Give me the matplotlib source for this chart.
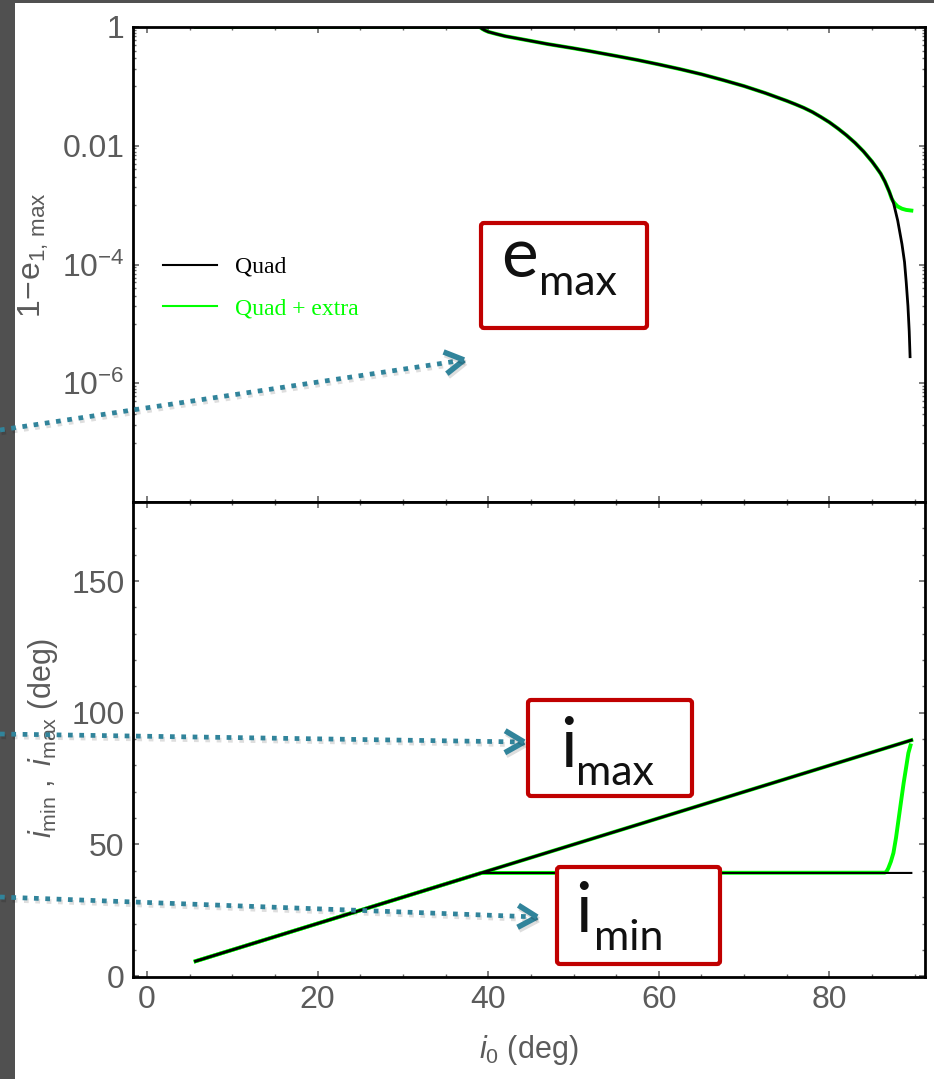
import matplotlib
matplotlib.use("Agg")
import matplotlib.pyplot as plt
import matplotlib.patheffects as pe
from matplotlib.lines import Line2D
from matplotlib.patches import Rectangle, FancyBboxPatch
from matplotlib.ticker import FixedLocator, FixedFormatter, MultipleLocator, NullFormatter

plt.rcParams["font.family"] = ["Liberation Sans", "DejaVu Sans"]
plt.rcParams["mathtext.fontset"] = "custom"
plt.rcParams["mathtext.rm"] = "Liberation Sans"
plt.rcParams["mathtext.it"] = "Liberation Sans:italic"

# ---- data ----
# top panel: 1 - e_max against i0
i0_e_quad = [5.7, 39.0, 39.3, 39.6, 40.0, 41.0, 42.0, 44.0, 47.0, 50.0, 52.0,
             55.0, 57.5, 60.0, 62.5, 65.0, 67.5, 70.0, 72.5, 75.0, 76.0, 77.0,
             78.0, 79.0, 80.0, 81.0, 82.0, 83.0, 84.0, 85.0, 85.5, 86.0, 86.5,
             87.0, 87.5, 88.0, 88.5, 88.8, 89.0, 89.2, 89.35, 89.45]
emax_quad = [1.0, 1.0, 0.93, 0.88, 0.83, 0.76, 0.70, 0.62, 0.515, 0.438, 0.39,
             0.325, 0.278, 0.234, 0.195, 0.16, 0.128, 0.101, 0.077, 0.057, 0.050,
             0.0435, 0.037, 0.0305, 0.0248, 0.0195, 0.0150, 0.0112, 0.0080,
             0.0054, 0.0043, 0.0034, 0.0025, 0.0017, 0.0011, 0.00055, 0.00022,
             0.00011, 5.0e-5, 2.0e-5, 7.5e-6, 2.8e-6]
i0_e_extra = [5.7, 39.0, 39.3, 39.6, 40.0, 41.0, 42.0, 44.0, 47.0, 50.0, 52.0,
              55.0, 57.5, 60.0, 62.5, 65.0, 67.5, 70.0, 72.5, 75.0, 76.0, 77.0,
              78.0, 79.0, 80.0, 81.0, 82.0, 83.0, 84.0, 85.0, 85.5, 86.0, 86.5,
              87.0, 87.3, 87.5, 87.7, 88.0, 88.5, 89.0, 89.6]
emax_extra = [1.0, 1.0, 0.93, 0.88, 0.83, 0.76, 0.70, 0.62, 0.515, 0.438, 0.39,
              0.325, 0.278, 0.234, 0.195, 0.16, 0.128, 0.101, 0.077, 0.057, 0.050,
              0.0435, 0.037, 0.0305, 0.0248, 0.0195, 0.0150, 0.0112, 0.0080,
              0.0054, 0.0043, 0.0034, 0.0025, 0.0017, 0.00128, 0.00114, 0.00105,
              0.00095, 0.00087, 0.00083, 0.00081]

# bottom panel: i_min and i_max against i0
i0_imax = [5.7, 89.6]
imax_quad = [5.7, 89.6]
imax_extra = [5.7, 89.6]
i0_imin_quad = [5.7, 39.2, 89.6]
imin_quad = [5.7, 39.2, 39.2]
i0_imin_extra = [5.7, 39.2, 86.5, 86.7, 86.9, 87.2, 87.5, 87.8, 88.1, 88.4,
                 88.7, 89.0, 89.25, 89.5]
imin_extra = [5.7, 39.2, 39.3, 39.8, 41.0, 43.5, 46.8, 52.5, 59.5, 66.5,
              73.4, 79.5, 84.7, 87.6]

log_labels = ["1", "0.01", r"$\mathregular{10^{-4}}$", r"$\mathregular{10^{-6}}$", ""]

GREEN = "#00ff00"
TICKC = "#5b5b5b"
W, H = 934, 1079


def frac(x0, y0, x1, y1):
    return [x0 / W, 1 - y1 / H, (x1 - x0) / W, (y1 - y0) / H]


fig = plt.figure(figsize=(W / 100, H / 100), dpi=100)
ax1 = fig.add_axes(frac(133, 27, 925, 502))
ax2 = fig.add_axes(frac(133, 502, 925, 977))

for ax in (ax1, ax2):
    ax.set_xlim(-1.64, 91.2)
    ax.xaxis.set_major_locator(MultipleLocator(20))
    ax.xaxis.set_minor_locator(MultipleLocator(5))
    ax.tick_params(which="both", direction="in", top=True, right=True,
                   color="#666666", labelcolor=TICKC, labelsize=23, pad=6)
    ax.tick_params(which="major", length=4, width=1.2)
    ax.tick_params(which="minor", length=2.5, width=1)
    for s in ax.spines.values():
        s.set_linewidth(2)
        s.set_color("black")

# top panel
ax1.plot(i0_e_extra, emax_extra, color=GREEN, lw=2.8)
ax1.plot(i0_e_quad, emax_quad, color="black", lw=2.0)
ax1.set_yscale("log")
ax1.set_ylim(1e-8, 1)
ax1.yaxis.set_major_locator(FixedLocator([1, 1e-2, 1e-4, 1e-6, 1e-8]))
ax1.yaxis.set_major_formatter(FixedFormatter(log_labels))
minor = [k * 10.0 ** (-2 * m - 1) for m in range(4) for k in range(1, 10)]
ax1.yaxis.set_minor_locator(FixedLocator(minor))
ax1.yaxis.set_minor_formatter(NullFormatter())
ax1.tick_params(axis="x", labelbottom=False)

handles = [Line2D([], [], color="black", lw=1.5),
           Line2D([], [], color=GREEN, lw=1.5)]
leg = ax1.legend(handles, ["Quad", "Quad + extra"], loc="center left",
                 bbox_to_anchor=((163 - 133) / 792, (502 - 288) / 475),
                 frameon=False, borderpad=0, borderaxespad=0,
                 handlelength=2.3, handletextpad=0.75, labelspacing=0.85,
                 prop={"family": "Liberation Serif", "size": 17})
leg.get_texts()[0].set_color("black")
leg.get_texts()[1].set_color(GREEN)

# bottom panel
ax2.plot(i0_imax, imax_extra, color=GREEN, lw=2.8)
ax2.plot(i0_imin_extra, imin_extra, color=GREEN, lw=2.8)
ax2.plot(i0_imax, imax_quad, color="black", lw=2.0)
ax2.plot(i0_imin_quad, imin_quad, color="black", lw=1.5)
ax2.set_ylim(-0.3, 180)
ax2.yaxis.set_major_locator(FixedLocator([0, 50, 100, 150]))
ax2.yaxis.set_minor_locator(MultipleLocator(10))

# axis labels
fig.text(34 / W, 1 - 255 / H, r"$\mathregular{1\!-\!e_{1,\,max}}$", rotation=90,
         ha="center", va="center", fontsize=23, color=TICKC)
fig.text(43 / W, 1 - 738 / H,
         r"$\mathit{i}_{\mathregular{min}}\mathregular{\ ,\ }\mathit{i}_{\mathregular{max}}\mathregular{\ (deg)}$",
         rotation=90, ha="center", va="center", fontsize=22, color=TICKC)
fig.text(529 / W, 1 - 1050 / H, r"$\mathit{i}_{\mathregular{0}}\mathregular{\ (deg)}$",
         ha="center", va="center", fontsize=22, color=TICKC)

# overlay in pixel coordinates for the slide annotations
ov = fig.add_axes([0, 0, 1, 1], zorder=10)
ov.set_xlim(0, W)
ov.set_ylim(H, 0)
ov.axis("off")
ov.patch.set_alpha(0)

ov.add_patch(Rectangle((0, 0), 15, H, color="#505050", lw=0))
ov.add_patch(Rectangle((0, 0), W, 3, color="#505050", lw=0))

TEAL = "#31849b"
shadow = [pe.SimpleLineShadow(offset=(1, -2), shadow_color="black", alpha=0.13),
          pe.Normal()]


def dotted_arrow(x0, y0, x1, y1):
    dx, dy = x1 - x0, y1 - y0
    n = (dx ** 2 + dy ** 2) ** 0.5
    ux, uy = dx / n, dy / n
    ov.plot([x0, x1 - 6 * ux], [y0, y1 - 6 * uy], color=TEAL, lw=3.4,
            linestyle=(0, (1, 1.4)), dash_capstyle="butt", path_effects=shadow)
    for sgn in (1, -1):
        bx = x1 - 19 * ux - sgn * 11 * uy
        by = y1 - 19 * uy + sgn * 11 * ux
        ov.plot([bx, x1], [by, y1], color=TEAL, lw=4, solid_capstyle="butt",
                path_effects=shadow)


dotted_arrow(0, 430, 464, 360)
dotted_arrow(0, 734, 524, 742)
dotted_arrow(0, 897, 537, 917)


def red_box(x0, y0, x1, y1):
    ov.add_patch(FancyBboxPatch((x0, y0), x1 - x0, y1 - y0,
                                boxstyle="round,pad=0,rounding_size=3",
                                ec="#c00000", fc="white", lw=3))


red_box(481, 223, 647, 328)
red_box(528, 700, 692, 796)
red_box(557, 867, 720, 964)

ov.text(501, 277, "e", fontsize=50, family="Lato", color="#111111", va="baseline")
ov.text(539, 295, "max", fontsize=31, family="Lato", color="#111111", va="baseline")
ov.text(560, 767, "i", fontsize=50, family="Lato", color="#111111", va="baseline")
ov.text(576, 785, "max", fontsize=31, family="Lato", color="#111111", va="baseline")
ov.text(575, 932, "i", fontsize=50, family="Lato", color="#111111", va="baseline")
ov.text(594, 950, "min", fontsize=31, family="Lato", color="#111111", va="baseline")

fig.savefig("out.png", dpi=100)
